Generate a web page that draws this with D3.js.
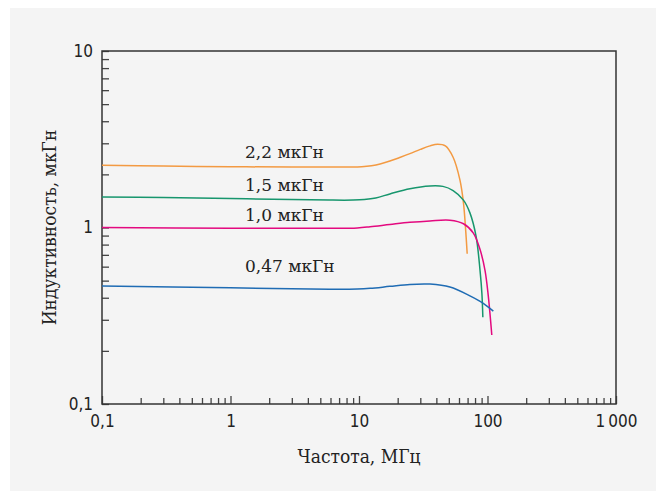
<!DOCTYPE html>
<html>
<head>
<meta charset="utf-8">
<script src="https://cdn.jsdelivr.net/npm/d3@7"></script>
<style>
  body { margin: 0; background: #fff; }
  .tick text { font-family: "DejaVu Sans Condensed", "DejaVu Sans", sans-serif; font-size: 17px; fill: #222; }
  .ttl { font-family: "DejaVu Serif Condensed", "DejaVu Serif", serif; fill: #222; }
  .lbl { font-family: "DejaVu Serif", serif; fill: #222; }
</style>
</head>
<body>
<svg id="chart"></svg>
<script>
var W = 656, H = 491; // canvas
var margin = {left: 102, right: 40, top: 51, bottom: 87};

// data: frequency (MHz), inductance (uH)
var seriesNames = ["2,2 мкГн", "1,5 мкГн", "1,0 мкГн", "0,47 мкГн"];
var seriesColors = ["#f39a42", "#17966d", "#e3097f", "#1f6cb4"];
var s22 = [[0.1, 2.25], [0.3, 2.23], [1, 2.21], [3, 2.2], [6, 2.2], [8.5, 2.2], [10.5, 2.21], [12.5, 2.24],
           [14.6, 2.29], [17.4, 2.38], [21, 2.5], [24.9, 2.62], [30, 2.77], [35.7, 2.9], [41, 2.96], [47, 2.9],
           [54, 2.5], [61, 1.86], [65, 1.38], [67.6, 0.97], [69.5, 0.71]];
var s15 = [[0.1, 1.49], [0.3, 1.48], [1, 1.46], [3, 1.44], [5.9, 1.43], [9, 1.43], [11, 1.44], [13.5, 1.47],
           [17.4, 1.55], [24.9, 1.66], [35.7, 1.72], [45, 1.71], [54, 1.62], [65, 1.43], [73, 1.21], [81.5, 0.89],
           [87.5, 0.57], [90.5, 0.42], [92, 0.31]];
var s10 = [[0.1, 1.0], [1, 0.99], [5.9, 0.99], [9.7, 0.995], [12.2, 1.01], [17.4, 1.04], [24.9, 1.07], [35.7, 1.09],
           [51, 1.1], [65, 1.05], [77.6, 0.93], [87.5, 0.75], [95.7, 0.57], [101.4, 0.41], [108, 0.246]];
var s047 = [[0.1, 0.466], [1, 0.455], [3, 0.45], [5.9, 0.447], [9.7, 0.448], [12.2, 0.452], [17.4, 0.464],
            [24.9, 0.476], [35.7, 0.478], [51, 0.46], [73, 0.41], [92.7, 0.372], [111, 0.336]];
var allSeries = [s22, s15, s10, s047];

var xMajor = [0.1, 1, 10, 100, 1000];
var xMajorLabels = ["0,1", "1", "10", "100", "1\u2009000"];
var yMajor = [0.1, 1, 10];
var yMajorLabels = ["0,1", "1", "10"];

var svg = d3.select("#chart").attr("width", W).attr("height", H);

// grey panel
svg.append("rect").attr("x", 10).attr("y", 8).attr("width", W - 10).attr("height", H - 8).attr("fill", "#f4f4f4");

var x = d3.scaleLog().domain([0.1, 1000]).range([margin.left, W - margin.right]);
var y = d3.scaleLog().domain([0.1, 10]).range([H - margin.bottom, margin.top]);

// minor ticks: 2..9 of each decade
function minors(lo, hi) {
  var out = [];
  for (var d = lo; d < hi; d *= 10)
    for (var k = 2; k <= 9; k++) out.push(d * k);
  return out;
}

function styleAxis(g) {
  g.select(".domain").remove();
  g.selectAll(".tick line").attr("stroke", "#444").attr("stroke-width", 1.3);
}

// x axis
svg.append("g").attr("transform", "translate(0," + (H - margin.bottom) + ")")
  .call(d3.axisBottom(x).tickValues(minors(0.1, 1000)).tickSize(-6).tickFormat(""))
  .call(styleAxis);
svg.append("g").attr("transform", "translate(0," + (H - margin.bottom) + ")")
  .call(d3.axisBottom(x).tickValues(xMajor).tickSize(-8).tickPadding(11)
    .tickFormat(function(d, i) { return xMajorLabels[i]; }))
  .call(styleAxis);

// y axis
svg.append("g").attr("transform", "translate(" + margin.left + ",0)")
  .call(d3.axisLeft(y).tickValues(minors(0.1, 10)).tickSize(-7).tickFormat(""))
  .call(styleAxis);
svg.append("g").attr("transform", "translate(" + margin.left + ",0)")
  .call(d3.axisLeft(y).tickValues(yMajor).tickSize(-7).tickPadding(9)
    .tickFormat(function(d, i) { return yMajorLabels[i]; }))
  .call(styleAxis);

// frame
svg.append("rect")
  .attr("x", margin.left).attr("y", margin.top)
  .attr("width", W - margin.right - margin.left).attr("height", H - margin.bottom - margin.top)
  .attr("fill", "none").attr("stroke", "#333").attr("stroke-width", 1.5);

// curves, smoothed through the read points
var line = d3.line()
  .x(function(d) { return x(d[0]); })
  .y(function(d) { return y(d[1]); })
  .curve(d3.curveCatmullRom.alpha(0.5));

svg.append("g").selectAll("path").data(allSeries).enter().append("path")
  .attr("d", line)
  .attr("fill", "none")
  .attr("stroke", function(d, i) { return seriesColors[i]; })
  .attr("stroke-width", 1.5);

// curve labels
var labelY = [158, 191, 221, 272];
svg.append("g").selectAll("text").data(seriesNames).enter().append("text")
  .attr("class", "lbl")
  .attr("x", 245)
  .attr("y", function(d, i) { return labelY[i]; })
  .attr("font-size", 17)
  .text(function(d) { return d; });

// axis titles
svg.append("text").attr("class", "ttl")
  .attr("x", (margin.left + W - margin.right) / 2).attr("y", 463)
  .attr("text-anchor", "middle").attr("font-size", 19)
  .text("Частота, МГц");
svg.append("text").attr("class", "ttl")
  .attr("transform", "translate(56," + ((margin.top + H - margin.bottom) / 2) + ") rotate(-90)")
  .attr("text-anchor", "middle").attr("font-size", 19)
  .text("Индуктивность, мкГн");
</script>
</body>
</html>
